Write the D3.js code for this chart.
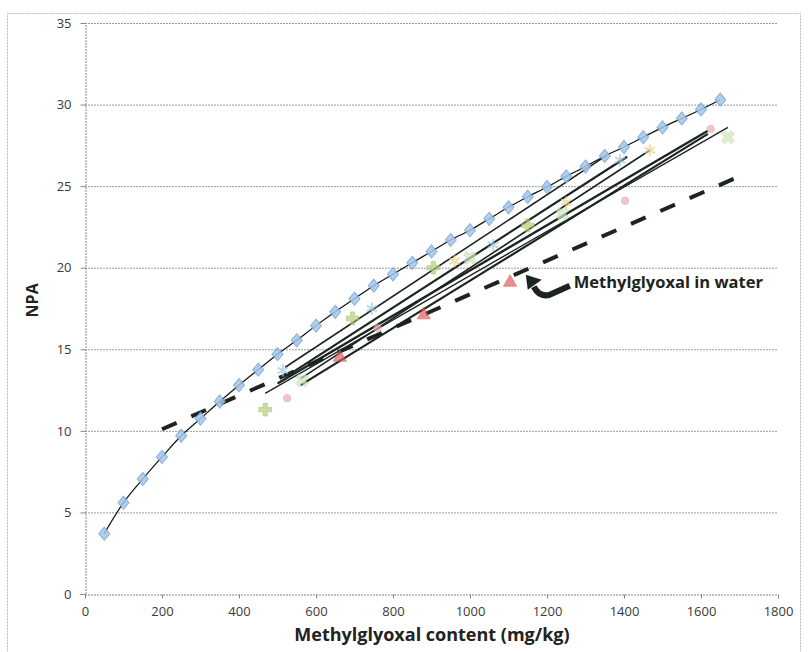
<!DOCTYPE html>
<html>
<head>
<meta charset="utf-8">
<script src="https://cdn.jsdelivr.net/npm/d3@7"></script>
<style>
  body { margin: 0; background: #fff; }
  svg { display: block; }
  text { font-family: "Open Sans", "Liberation Sans", sans-serif; }
</style>
</head>
<body>
<div id="chart"></div>
<script>
// methylglyoxal standard curve (blue diamonds)
var stdX = [50, 100, 150, 200, 250, 300, 350, 400, 450, 500, 550, 600, 650, 700, 750, 800, 850,
            900, 950, 1000, 1050, 1100, 1150, 1200, 1250, 1300, 1350, 1400, 1450, 1500, 1550, 1600, 1650];
var stdY = [3.7, 5.6, 7.05, 8.4, 9.7, 10.75, 11.8, 12.8, 13.75, 14.7, 15.55, 16.45, 17.3, 18.1, 18.9, 19.6, 20.3,
            21.0, 21.7, 22.3, 23.0, 23.7, 24.35, 24.95, 25.6, 26.2, 26.85, 27.4, 28.0, 28.6, 29.15, 29.7, 30.3];

// methylglyoxal in water (red triangles) and its trend line
var waterX = [662, 880, 1104];
var waterY = [14.5, 17.1, 19.1];
var waterFit = [200, 10.1, 1700, 25.6];

// honey samples: markers
var plusX = [468, 695, 905, 1150];
var plusY = [11.3, 16.9, 20.0, 22.6];
var circleX = [525, 760, 1403, 1625];
var circleY = [12.0, 16.3, 24.1, 28.5];
var crossX = [564, 1000, 1240, 1670];
var crossY = [13.1, 20.6, 23.3, 28.0];
var starX = [514, 745, 1060, 1390];
var starY = [13.7, 17.5, 21.4, 26.6];
var yStarX = [960, 1250, 1467];
var yStarY = [20.4, 24.0, 27.2];

// honey samples: linear fits [x0, y0, x1, y1]
var fitLines = [
  [520, 13.9, 1356, 26.9],
  [540, 13.6, 1408, 26.8],
  [560, 13.2, 1467, 27.2],
  [500, 12.9, 1618, 28.4],
  [468, 12.3, 1670, 28.6],
  [560, 12.8, 1618, 28.2]
];
var fitWidths = [1.6, 2.2, 1.6, 2.4, 1.4, 2.2];

var xTicks = [0, 200, 400, 600, 800, 1000, 1200, 1400, 1600, 1800];
var yTicks = [0, 5, 10, 15, 20, 25, 30, 35];

var W = 808, H = 652;
var margin = {top: 23, right: 30, bottom: 58, left: 85};

var svg = d3.select("#chart").append("svg")
  .attr("width", W)
  .attr("height", H);

// outer frame
svg.append("rect")
  .attr("x", 7.5).attr("y", 13.5)
  .attr("width", 793).attr("height", 640)
  .attr("fill", "none")
  .attr("stroke", "#bbb")
  .attr("stroke-dasharray", "2,1");

var x = d3.scaleLinear().domain([0, 1800]).range([margin.left, W - margin.right]);
var y = d3.scaleLinear().domain([0, 35]).range([H - margin.bottom, margin.top]);

// gridlines
svg.append("g").selectAll("line")
  .data(yTicks.filter(function(d) { return d > 0; }))
  .enter().append("line")
  .attr("x1", x(0)).attr("x2", x(1800))
  .attr("y1", function(d) { return y(d) + 0.5; })
  .attr("y2", function(d) { return y(d) + 0.5; })
  .attr("stroke", "#9a9a9a")
  .attr("stroke-dasharray", "2,1");

// axes
var yAxis = svg.append("g")
  .attr("transform", "translate(" + (x(0) + 0.5) + ",0)")
  .call(d3.axisLeft(y).tickValues(yTicks).tickSize(5).tickPadding(9));
var xAxis = svg.append("g")
  .attr("transform", "translate(0," + (y(0) + 0.5) + ")")
  .call(d3.axisBottom(x).tickValues(xTicks).tickFormat(d3.format("d")).tickSize(4).tickPadding(8));
[xAxis, yAxis].forEach(function(g) {
  g.select(".domain").attr("stroke", "#888").attr("stroke-dasharray", "2,1");
  g.selectAll(".tick line").attr("stroke", "#888");
  g.selectAll(".tick text").attr("fill", "#3a3a3a").attr("font-size", 13)
    .attr("font-family", "'Open Sans', sans-serif");
});

svg.append("text")
  .attr("x", 432).attr("y", 641)
  .attr("text-anchor", "middle")
  .attr("font-size", 18).attr("font-weight", "bold")
  .attr("fill", "#222")
  .text("Methylglyoxal content (mg/kg)");

svg.append("text")
  .attr("transform", "translate(38," + y(18) + ") rotate(-90)")
  .attr("text-anchor", "middle")
  .attr("font-size", 16).attr("font-weight", "bold")
  .attr("fill", "#222")
  .text("NPA");

// honey fit lines
svg.append("g").selectAll("line")
  .data(fitLines)
  .enter().append("line")
  .attr("x1", function(d) { return x(d[0]); })
  .attr("y1", function(d) { return y(d[1]); })
  .attr("x2", function(d) { return x(d[2]); })
  .attr("y2", function(d) { return y(d[3]); })
  .attr("stroke", "#1c2420")
  .attr("stroke-width", function(d, i) { return fitWidths[i]; });

// water trend line (dashed)
svg.append("line")
  .attr("x1", x(waterFit[0])).attr("y1", y(waterFit[1]))
  .attr("x2", x(waterFit[2])).attr("y2", y(waterFit[3]))
  .attr("stroke", "#1c2420")
  .attr("stroke-width", 4)
  .attr("stroke-dasharray", "16,16");

function pts(xs, ys) {
  return xs.map(function(v, i) { return [v, ys[i]]; });
}

function drawSymbols(data, type, size, fill, stroke, rot) {
  svg.append("g").selectAll("path")
    .data(data)
    .enter().append("path")
    .attr("d", d3.symbol().type(type).size(size))
    .attr("transform", function(d) {
      return "translate(" + x(d[0]) + "," + y(d[1]) + ")" + (rot ? " rotate(" + rot + ")" : "");
    })
    .attr("fill", fill)
    .attr("stroke", stroke)
    .attr("stroke-width", fill === "none" ? 2 : 0.8)
    .attr("opacity", 0.7);
}

drawSymbols(pts(plusX, plusY), d3.symbolCross, 90, "#b2cf78", "#9dbd5c");
drawSymbols(pts(circleX, circleY), d3.symbolCircle, 45, "#eab0b0", "#dca0a0");
drawSymbols(pts(crossX, crossY), d3.symbolCross, 100, "#cfe6bd", "#b5d6a0", 45);
drawSymbols(pts(starX, starY), d3.symbolAsterisk, 100, "none", "#9ccbdc");
drawSymbols(pts(yStarX, yStarY), d3.symbolAsterisk, 100, "none", "#ead088");
drawSymbols(pts(waterX, waterY), d3.symbolTriangle, 75, "#e06060", "#d04848");

// standard curve: smooth line + diamonds
var std = pts(stdX, stdY);
svg.append("path")
  .datum(std)
  .attr("fill", "none")
  .attr("stroke", "#111")
  .attr("stroke-width", 1.2)
  .attr("d", d3.line().x(function(d) { return x(d[0]); }).y(function(d) { return y(d[1]); })
    .curve(d3.curveCatmullRom));

svg.append("g").selectAll("path")
  .data(std)
  .enter().append("path")
  .attr("d", d3.symbol().type(d3.symbolDiamond).size(60))
  .attr("transform", function(d) { return "translate(" + x(d[0]) + "," + y(d[1]) + ") scale(1.3,0.9)"; })
  .attr("fill", "#a4c6e8")
  .attr("stroke", "#7aa8da")
  .attr("stroke-width", 1)
  .attr("opacity", 0.85);

// annotation
var ax = x(1150), ay = y(19.2);
var ann = svg.append("g");
ann.append("path")
  .attr("d", "M" + (ax + 42) + "," + (ay + 5) +
             " L" + (ax + 22) + "," + (ay + 14) +
             " Q" + (ax + 12) + "," + (ay + 17) + " " + (ax + 6) + "," + (ay + 6))
  .attr("fill", "none")
  .attr("stroke", "#1c2420")
  .attr("stroke-width", 6)
  .attr("stroke-linecap", "butt");
ann.append("path")
  .attr("d", "M" + (ax - 2) + "," + (ay - 6) +
             " L" + (ax + 14) + "," + (ay - 1) +
             " L" + (ax) + "," + (ay + 9) + " Z")
  .attr("fill", "#1c2420");
ann.append("text")
  .attr("x", ax + 46).attr("y", ay + 7)
  .attr("font-size", 16.5).attr("font-weight", "bold")
  .attr("fill", "#1c2420")
  .text("Methylglyoxal in water");
</script>
</body>
</html>
